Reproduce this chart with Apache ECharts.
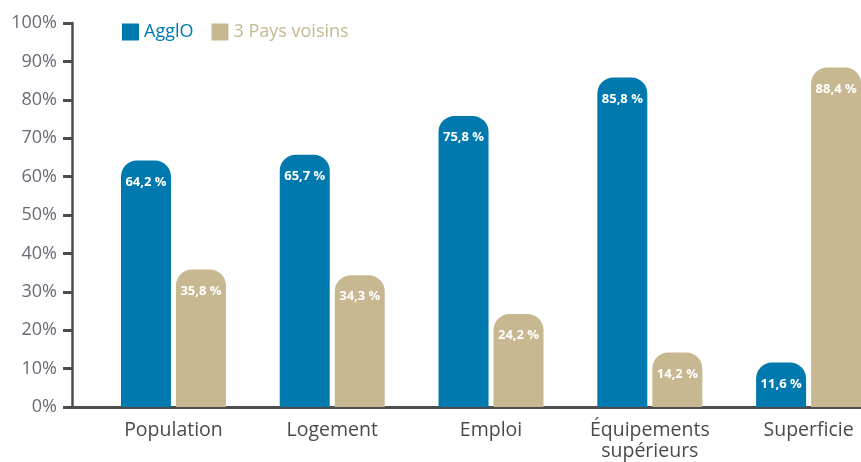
<!DOCTYPE html>
<html>
<head>
<meta charset="utf-8">
<script src="https://cdn.jsdelivr.net/npm/echarts@6/dist/echarts.min.js"></script>
<style>html,body{margin:0;padding:0;background:#fff}#c{width:861px;height:462px}</style>
</head>
<body>
<div id="c"></div>
<script>
var categories = ['Population', 'Logement', 'Emploi', 'Équipements\nsupérieurs', 'Superficie'];
var agglo = [64.2, 65.7, 75.8, 85.8, 11.6];
var voisins = [35.8, 34.3, 24.2, 14.2, 88.4];
var seriesNames = ['AgglO', '3 Pays voisins'];

var BLUE = '#0079ae', TAN = '#c7b891';
function fmt(p){ return p.value[1].toFixed(1).replace('.', ',') + ' %'; }
function pairs(arr){ return arr.map(function(v,i){ return [i, v]; }); }

var chart = echarts.init(document.getElementById('c'));
var labelCfg = { show: true, position: 'insideTop', distance: 15, color: '#fff', fontFamily: 'Open Sans', fontWeight: 'bold', fontSize: 13, formatter: fmt };
chart.setOption({
  animation: false,
  legend: {
    left: 117, top: 18, itemWidth: 17, itemHeight: 17, itemGap: 18, icon: 'rect',
    textStyle: { fontFamily: 'Open Sans', fontSize: 18 },
    data: [ { name: seriesNames[0], textStyle: { color: BLUE } }, { name: seriesNames[1], textStyle: { color: TAN } } ]
  },
  grid: { left: 72, right: 0, top: 23, bottom: 54, containLabel: false },
  xAxis: {
    type: 'value', min: -0.639, max: 4.33,
    splitLine: { show: false },
    axisLine: { show: true, onZero: false, lineStyle: { color: '#4d4d4d', width: 3 } },
    axisTick: { show: false },
    axisLabel: {
      customValues: [0,1,2,3,4], margin: 13, lineHeight: 21,
      color: '#4a4a4a', fontFamily: 'Open Sans', fontSize: 19.5,
      formatter: function(v){ return categories[Math.round(v)]; }
    }
  },
  yAxis: {
    type: 'value', min: 0, max: 100, interval: 10,
    splitLine: { show: false },
    axisLine: { show: true, onZero: false, lineStyle: { color: '#4d4d4d', width: 2.5 } },
    axisTick: { show: true, length: 9, lineStyle: { color: '#4d4d4d', width: 3 } },
    axisLabel: { margin: 15, color: '#6a6a78', fontFamily: 'Open Sans', fontSize: 18, formatter: '{value}%' }
  },
  series: [
    { name: seriesNames[0], type: 'bar', data: pairs(agglo), barWidth: 50, barGap: '10%',
      itemStyle: { color: BLUE, borderRadius: [16,16,0,0] }, label: labelCfg },
    { name: seriesNames[1], type: 'bar', data: pairs(voisins), barWidth: 50, barGap: '10%',
      itemStyle: { color: TAN, borderRadius: [16,16,0,0] }, label: labelCfg }
  ]
});
</script>
</body>
</html>
